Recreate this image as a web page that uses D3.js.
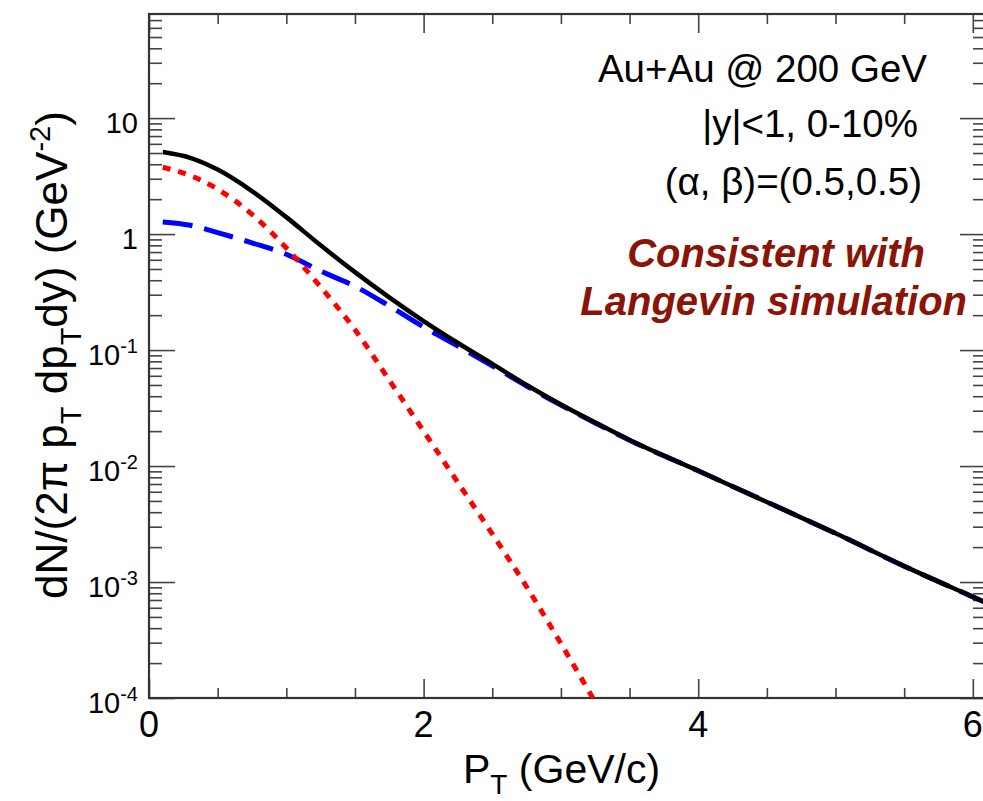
<!DOCTYPE html>
<html>
<head>
<meta charset="utf-8">
<script src="https://cdn.jsdelivr.net/npm/d3@7"></script>
<style>
  body { margin: 0; background: #fff; }
  text { font-family: "Liberation Sans", Arial, sans-serif; fill: #000; }
</style>
</head>
<body>
<script>
  // pT grid (GeV/c) and spectra
  const ptGrid = [0.1, 0.3, 0.5, 0.75, 1.0, 1.25, 1.5, 1.75, 2.0, 2.25, 2.5, 2.75, 3.0, 3.25, 3.5, 4.0, 4.5, 5.0, 5.5, 6.0, 6.1];
  const total = [5.1, 4.55, 3.6, 2.35, 1.40, 0.80, 0.47, 0.285, 0.178, 0.115, 0.076, 0.050, 0.0339, 0.0237, 0.0168, 0.0091, 0.0049, 0.00263, 0.00137, 0.000745, 0.00066];
  const powerLaw = [1.27, 1.19, 1.03, 0.84, 0.67, 0.48, 0.355, 0.24, 0.158, 0.108, 0.073, 0.049, 0.0335, 0.0235, 0.0167, 0.0091, 0.0049, 0.00263, 0.00137, 0.000745, 0.00066];
  const ptThermal = [0.1, 0.3, 0.5, 0.75, 1.0, 1.25, 1.5, 1.75, 2.0, 2.25, 2.5, 2.75, 3.0, 3.25];
  const thermal = [3.77, 3.2, 2.44, 1.48, 0.76, 0.35, 0.15, 0.055, 0.020, 0.0072, 0.0026, 0.00091, 0.000295, 0.000092];

  // axis ticks
  const xMajor = [0, 2, 4, 6];
  const xMinor = [0.5, 1, 1.5, 2.5, 3, 3.5, 4.5, 5, 5.5];
  const yMajor = [1e-4, 1e-3, 1e-2, 1e-1, 1, 10];
  const yLabels = [["10", "-4"], ["10", "-3"], ["10", "-2"], ["10", "-1"], ["1", ""], ["10", ""]];

  const notes = ["Au+Au @ 200 GeV", "|y|<1, 0-10%", "(\u03b1, \u03b2)=(0.5,0.5)"];
  const remark = ["Consistent with", "Langevin simulation"];

  const W = 983, H = 801;
  const plot = {left: 149, top: 14, right: 986, bottom: 698};

  const svg = d3.select('body').append('svg')
    .attr('width', W).attr('height', H);

  const x = d3.scaleLinear().domain([0, 6.096]).range([plot.left, plot.right]);
  const y = d3.scaleLog().domain([1e-4, 79]).range([plot.bottom, plot.top]);

  // y minor ticks: 2..9 in each decade inside the range
  const yMinor = [];
  for (let e = -4; e <= 1; e++) {
    for (let k = 2; k <= 9; k++) {
      const v = k * Math.pow(10, e);
      if (v < 79) yMinor.push(v);
    }
  }

  const tickCol = '#444';
  function drawAxis(axis, tr) {
    const g = svg.append('g').attr('transform', tr).call(axis);
    g.select('.domain').remove();
    g.selectAll('line').attr('stroke', tickCol).attr('stroke-width', 1.6);
    return g;
  }

  // ticks pointing inward on all four sides
  drawAxis(d3.axisBottom(x).tickValues(xMajor).tickSize(-19).tickFormat(''), `translate(0,${plot.bottom})`);
  drawAxis(d3.axisBottom(x).tickValues(xMinor).tickSize(-10).tickFormat(''), `translate(0,${plot.bottom})`);
  drawAxis(d3.axisTop(x).tickValues(xMajor).tickSize(-19).tickFormat(''), `translate(0,${plot.top})`);
  drawAxis(d3.axisTop(x).tickValues(xMinor).tickSize(-10).tickFormat(''), `translate(0,${plot.top})`);
  drawAxis(d3.axisLeft(y).tickValues(yMajor).tickSize(-26).tickFormat(''), `translate(${plot.left},0)`);
  drawAxis(d3.axisLeft(y).tickValues(yMinor).tickSize(-13).tickFormat(''), `translate(${plot.left},0)`);
  drawAxis(d3.axisRight(y).tickValues(yMajor).tickSize(-26).tickFormat(''), `translate(${plot.right},0)`);
  drawAxis(d3.axisRight(y).tickValues(yMinor).tickSize(-13).tickFormat(''), `translate(${plot.right},0)`);

  // frame
  svg.append('rect')
    .attr('x', plot.left).attr('y', plot.top)
    .attr('width', plot.right - plot.left).attr('height', plot.bottom - plot.top)
    .attr('fill', 'none').attr('stroke', '#333').attr('stroke-width', 2.2);

  // tick labels
  svg.append('g').selectAll('text').data(xMajor).join('text')
    .attr('x', d => x(d)).attr('y', plot.bottom + 39)
    .attr('text-anchor', 'middle').attr('font-size', 36)
    .text(d => d);

  const yl = svg.append('g').selectAll('text').data(yMajor).join('text')
    .attr('x', 138).attr('y', d => y(d) + 15)
    .attr('text-anchor', 'end').attr('font-size', 29);
  yl.append('tspan').text((d, i) => yLabels[i][0]);
  yl.append('tspan').attr('dy', -12).attr('font-size', 20).text((d, i) => yLabels[i][1]);

  // axis titles
  const xt = svg.append('text').attr('x', 463).attr('y', 783).attr('font-size', 41);
  xt.append('tspan').text('P');
  xt.append('tspan').attr('dy', 11).attr('font-size', 28).text('T');
  xt.append('tspan').attr('dy', -11).text(' (GeV/c)');

  const yt = svg.append('text')
    .attr('transform', 'translate(67,355) rotate(-90)')
    .attr('text-anchor', 'middle').attr('font-size', 44);
  yt.append('tspan').text('dN/(2\u03c0 p');
  yt.append('tspan').attr('dy', 14).attr('font-size', 29).text('T');
  yt.append('tspan').attr('dy', -14).text(' dp');
  yt.append('tspan').attr('dy', 14).attr('font-size', 29).text('T');
  yt.append('tspan').attr('dy', -14).text('dy) (GeV');
  yt.append('tspan').attr('dy', -17).attr('font-size', 29).text('-2');
  yt.append('tspan').attr('dy', 17).text(')');

  // curves
  svg.append('clipPath').attr('id', 'clip').append('rect')
    .attr('x', plot.left).attr('y', plot.top)
    .attr('width', plot.right - plot.left).attr('height', plot.bottom - plot.top);

  const line = d3.line()
    .x(d => x(d[0])).y(d => y(d[1]))
    .curve(d3.curveMonotoneX);

  const curves = svg.append('g').attr('clip-path', 'url(#clip)');
  curves.append('path')
    .datum(ptGrid.map((p, i) => [p, powerLaw[i]]))
    .attr('d', line).attr('fill', 'none')
    .attr('stroke', '#0000ff').attr('stroke-width', 5)
    .attr('stroke-dasharray', '30,12');
  curves.append('path')
    .datum(ptThermal.map((p, i) => [p, thermal[i]]))
    .attr('d', line).attr('fill', 'none')
    .attr('stroke', '#ff0000').attr('stroke-width', 5)
    .attr('stroke-dasharray', '8,8');
  curves.append('path')
    .datum(ptGrid.map((p, i) => [p, total[i]]))
    .attr('d', line).attr('fill', 'none')
    .attr('stroke', '#000').attr('stroke-width', 4.5);

  // annotations
  svg.append('g').selectAll('text').data(notes).join('text')
    .attr('x', (d, i) => [927, 918, 922][i])
    .attr('y', (d, i) => [82, 137, 195][i])
    .attr('text-anchor', 'end').attr('font-size', 38.5)
    .text(d => d);

  svg.append('g').selectAll('text').data(remark).join('text')
    .attr('x', (d, i) => [925, 967][i])
    .attr('y', (d, i) => [267, 315][i])
    .attr('text-anchor', 'end').attr('font-size', 40)
    .attr('font-weight', 'bold').attr('font-style', 'italic')
    .style('fill', '#8a1406')
    .text(d => d);
</script>
</body>
</html>
